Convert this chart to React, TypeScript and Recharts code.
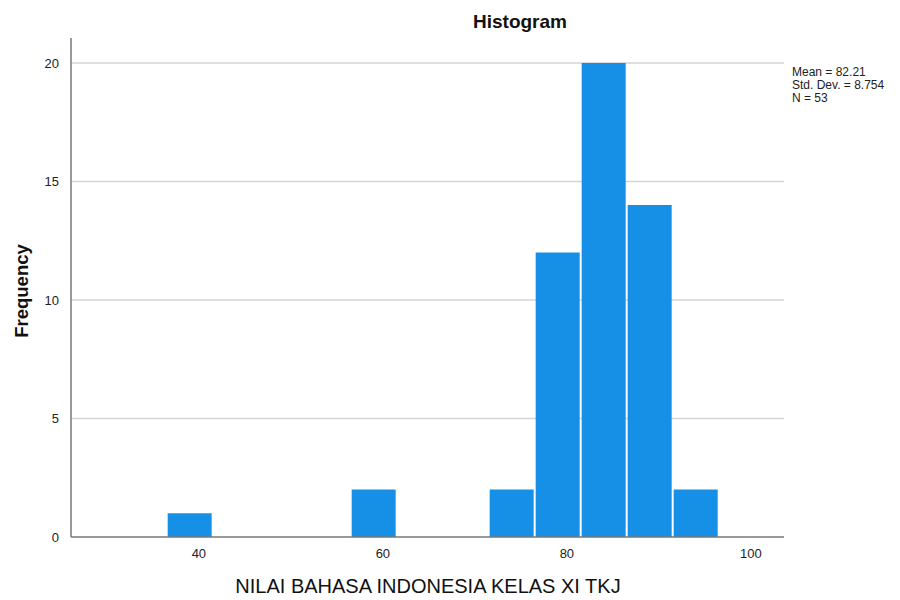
import { BarChart, Bar, XAxis, YAxis, CartesianGrid } from "recharts";

// bin midpoints (bin width 5) and counts
const binMids = [29, 34, 39, 44, 49, 54, 59, 64, 69, 74, 79, 84, 89, 94, 99];
const counts = [0, 0, 1, 0, 0, 0, 2, 0, 0, 2, 12, 20, 14, 2, 0];
const xTicks = [40, 60, 80, 100];
const yTicks = [0, 5, 10, 15, 20];
const statLines = ["Mean = 82.21", "Std. Dev. = 8.754", "N = 53"];

const data = binMids.map((mid, i) => ({ mid, count: counts[i] }));

const FONT = "'Liberation Sans', Arial, sans-serif";

export default function App() {
  return (
    <div style={{ position: "absolute", left: 0, top: 0, width: 900, height: 600, background: "#fff", fontFamily: FONT }}>
      <BarChart
        width={900}
        height={600}
        data={data}
        margin={{ top: 38, right: 116, bottom: 33, left: 31 }}
        barCategoryGap={1}
      >
        <CartesianGrid
          horizontal
          vertical={false}
          stroke="#d4d4d4"
          strokeWidth={1.5}
          horizontalValues={[5, 10, 15, 20]}
        />
        <XAxis
          dataKey="mid"
          type="number"
          domain={[26.1, 103.6]}
          allowDataOverflow
          ticks={xTicks}
          tickLine={false}
          axisLine={{ stroke: "#777", strokeWidth: 1.5 }}
          tick={{ fill: "#222", fontSize: 13, fontFamily: FONT }}
          tickMargin={6}
          height={30}
        />
        <YAxis
          type="number"
          domain={[0, 21.05]}
          allowDataOverflow
          ticks={yTicks}
          tickLine={false}
          axisLine={{ stroke: "#777", strokeWidth: 1.5 }}
          tick={{ fill: "#222", fontSize: 13, fontFamily: FONT }}
          tickMargin={6}
          width={40}
        />
        <Bar dataKey="count" fill="#1590e6" isAnimationActive={false} />
        <text x={520} y={28} textAnchor="middle" fontSize={19} fontWeight="bold" fill="#111" fontFamily={FONT}>
          Histogram
        </text>
        <text
          x={28}
          y={291}
          textAnchor="middle"
          fontSize={18.5}
          fontWeight="bold"
          fill="#111"
          fontFamily={FONT}
          transform="rotate(-90 28 291)"
        >
          Frequency
        </text>
        <text x={428} y={593} textAnchor="middle" fontSize={20} fill="#111" fontFamily={FONT}>
          NILAI BAHASA INDONESIA KELAS XI TKJ
        </text>
        {statLines.map((s, i) => (
          <text key={s} x={792} y={76 + i * 13} fontSize={12} fill="#222" fontFamily={FONT}>
            {s}
          </text>
        ))}
      </BarChart>
    </div>
  );
}
